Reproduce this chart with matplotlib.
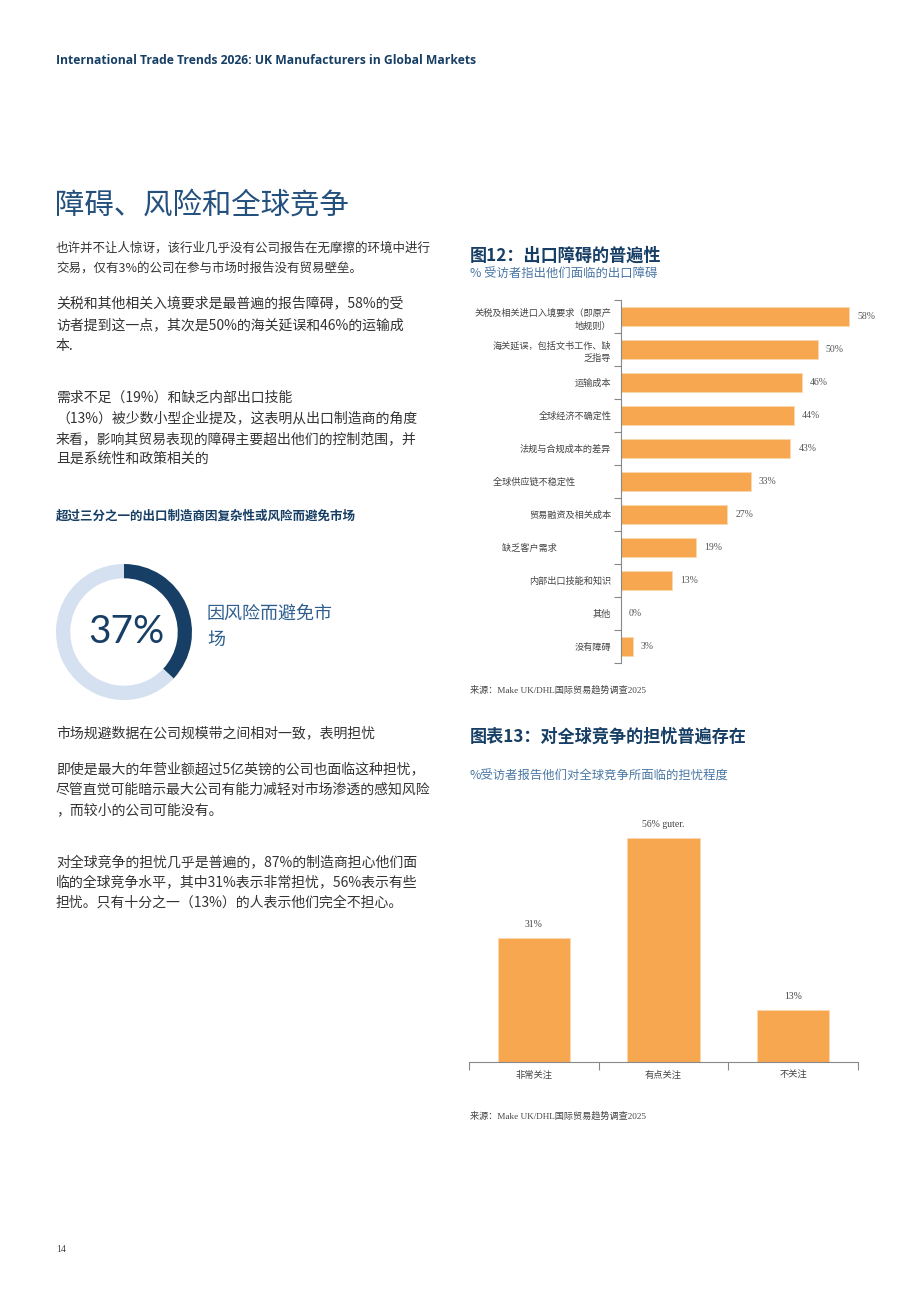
import matplotlib
matplotlib.use("Agg")
import matplotlib.pyplot as plt

plt.rcParams['font.family'] = ['Noto Sans CJK SC', 'DejaVu Sans']

W, H = 920, 1302

# --- data ---
barrier_labels = ["关税及相关进口入境要求（即原产\n地规则）", "海关延误，包括文书工作、缺\n乏指导", "运输成本",
                  "全球经济不确定性", "法规与合规成本的差异", "全球供应链不稳定性\u3000\u3000\u3000\u3000",
                  "贸易融资及相关成本", "缺乏客户需求\u3000\u3000\u3000\u3000\u3000\u3000", "内部出口技能和知识", "其他", "没有障碍"]
barrier_values = [58, 50, 46, 44, 43, 33, 27, 19, 13, 0, 3]

concern_labels = ["非常关注", "有点关注", "不关注"]
concern_values = [31, 56, 13]
concern_texts = ["31%", "56% guter.", "13%"]

avoid_share = 37

ORANGE = "#f6a750"
NAVY = "#173f66"
BODY = "#333333"
SUB = "#4a77a4"
SERIF = ['Liberation Serif', 'Noto Sans CJK SC']


def px(x, y):
    return x / W, 1 - y / H


def lines(fig, x, y0, pitch, text, **kw):
    for i, ln in enumerate(text.split("\n")):
        fig.text(*px(x, y0 + i * pitch), ln, va="center", ha="left", **kw)


fig = plt.figure(figsize=(9.2, 13.02), dpi=100)
fig.patch.set_facecolor("white")

# header + title
fig.text(*px(56, 61), "International Trade Trends 2026: UK Manufacturers in Global Markets",
         family=['Open Sans', 'DejaVu Sans'], weight="bold", fontsize=8.75, color=NAVY, va="center")
fig.text(*px(55, 205), "障碍、风险和全球竞争", fontsize=21.2, color="#24507e", va="center", weight="light")

small_kw = dict(fontsize=9.0, color=BODY)
body_kw = dict(fontsize=10.0, color=BODY)
lines(fig, 56, 248, 20.5, "也许并不让人惊讶，该行业几乎没有公司报告在无摩擦的环境中进行\n交易，仅有3%的公司在参与市场时报告没有贸易壁垒。", **small_kw)
lines(fig, 56, 304, 21, "关税和其他相关入境要求是最普遍的报告障碍，58%的受\n访者提到这一点，其次是50%的海关延误和46%的运输成\n本.", **body_kw)
lines(fig, 56, 398, 20.4, "需求不足（19%）和缺乏内部出口技能\n（13%）被少数小型企业提及，这表明从出口制造商的角度\n来看，影响其贸易表现的障碍主要超出他们的控制范围，并\n且是系统性和政策相关的", **body_kw)

fig.text(*px(56, 516), "超过三分之一的出口制造商因复杂性或风险而避免市场", fontsize=9.0,
         weight="bold", color=NAVY, va="center")

# donut
dax = fig.add_axes([56 / W, 1 - 700 / H, 136 / W, 136 / H])
dax.pie([avoid_share, 100 - avoid_share], colors=[NAVY, "#d5e0f0"], startangle=90,
        counterclock=False, wedgeprops=dict(width=0.21, edgecolor="none"))
dax.set_xlim(-1, 1)
dax.set_ylim(-1, 1)
dax.set_aspect("equal")
dax.text(0.03, 0.0, f"{avoid_share}%", ha="center", va="center", fontsize=28,
         family=['Lato', 'DejaVu Sans'], weight="normal", color=NAVY)
lines(fig, 207, 614, 26, "因风险而避免市\n场", fontsize=13, color="#2f5f8f")

lines(fig, 56, 733, 20.5, "市场规避数据在公司规模带之间相对一致，表明担忧", **body_kw)
lines(fig, 56, 769, 20.5, "即使是最大的年营业额超过5亿英镑的公司也面临这种担忧，\n尽管直觉可能暗示最大公司有能力减轻对市场渗透的感知风险\n，而较小的公司可能没有。", **body_kw)
lines(fig, 56, 862, 20.5, "对全球竞争的担忧几乎是普遍的，87%的制造商担心他们面\n临的全球竞争水平，其中31%表示非常担忧，56%表示有些\n担忧。只有十分之一（13%）的人表示他们完全不担心。", **body_kw)

# figure 12
fig.text(*px(470, 256), "图12：出口障碍的普遍性", fontsize=12.3, weight="bold", color=NAVY, va="center")
fig.text(*px(470, 274), "% 受访者指出他们面临的出口障碍", fontsize=8.9, color=SUB, va="center")

ax1 = fig.add_axes([621 / W, 1 - 663 / H, 260 / W, 363 / H])
ypos = list(range(len(barrier_values)))
ax1.barh(ypos, barrier_values, height=0.57, color=ORANGE, edgecolor="#fbd7ae", linewidth=0.6)
ax1.set_xlim(0, 66)
ax1.set_ylim(len(barrier_values) - 0.5, -0.5)
for y, v in zip(ypos, barrier_values):
    ax1.text(v + 2, y, f"{v}%", va="center", ha="left", fontsize=7, color="#555555", family=SERIF)
ax1.set_yticks(ypos)
ax1.set_yticklabels(barrier_labels, fontsize=6.6, color="#444444", linespacing=1.5)
ax1.tick_params(axis="y", which="major", length=0, pad=7)
ax1.set_yticks([i - 0.5 for i in range(len(barrier_values) + 1)], minor=True)
ax1.tick_params(axis="y", which="minor", length=5, width=0.8, color="#888888")
ax1.set_xticks([])
for s in ["top", "right", "bottom"]:
    ax1.spines[s].set_visible(False)
ax1.spines["left"].set_color("#888888")
ax1.spines["left"].set_linewidth(0.8)

fig.text(*px(470, 690), "来源：Make UK/DHL国际贸易趋势调查2025", fontsize=6.6, color="#444444",
         va="center", family=SERIF)

# figure 13
fig.text(*px(470, 737), "图表13：对全球竞争的担忧普遍存在", fontsize=12.3, weight="bold", color=NAVY, va="center")
fig.text(*px(470, 776), "%受访者报告他们对全球竞争所面临的担忧程度", fontsize=8.9, color=SUB, va="center")

ax2 = fig.add_axes([469 / W, 1 - 1062 / H, 389 / W, 262 / H])
xpos = list(range(len(concern_values)))
ax2.bar(xpos, concern_values, width=0.56, color=ORANGE, edgecolor="#fbd7ae", linewidth=0.6)
ax2.set_xlim(-0.5, len(concern_values) - 0.5)
ax2.set_ylim(0, 65.5)
for x, v, t in zip(xpos, concern_values, concern_texts):
    ax2.text(x, v + 2.2, t, ha="center", va="bottom", fontsize=7, color="#444444", family=SERIF)
ax2.set_xticks(xpos)
ax2.set_xticklabels(concern_labels, fontsize=6.7, color="#444444")
ax2.tick_params(axis="x", which="major", length=0, pad=6)
ax2.set_xticks([i - 0.5 for i in range(len(concern_values) + 1)], minor=True)
ax2.tick_params(axis="x", which="minor", length=6, width=0.8, color="#888888")
ax2.set_yticks([])
for s in ["top", "right", "left"]:
    ax2.spines[s].set_visible(False)
ax2.spines["bottom"].set_color("#888888")
ax2.spines["bottom"].set_linewidth(0.8)

fig.text(*px(470, 1116), "来源：Make UK/DHL国际贸易趋势调查2025", fontsize=6.6, color="#444444",
         va="center", family=SERIF)

fig.text(*px(56, 1250), "14", fontsize=7, color="#444444", va="center", family=SERIF)

fig.savefig("out.png", dpi=100)
